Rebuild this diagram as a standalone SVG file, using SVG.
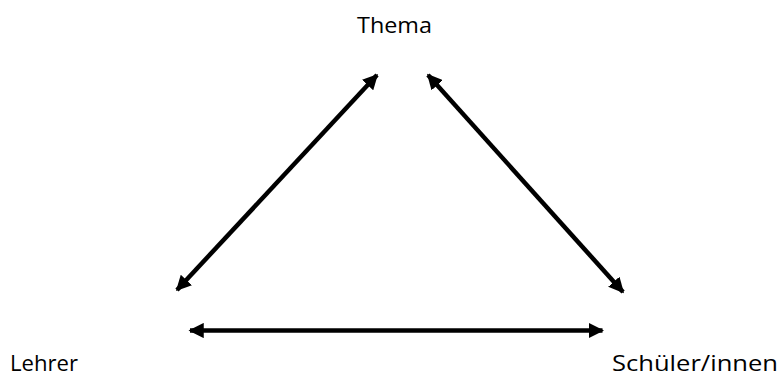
<svg xmlns="http://www.w3.org/2000/svg" width="781" height="379" viewBox="0 0 781 379">
<style>
text{font-family:"Open Sans","Liberation Sans",sans-serif;font-size:22px;fill:#000}
.c{stroke:#000;stroke-width:4.5;fill:none;marker-start:url(#a);marker-end:url(#a)}
</style>
<defs>
<marker id="a" viewBox="0 0 10 10" refX="9" refY="5" markerWidth="3.4" markerHeight="3.4" markerUnits="strokeWidth" orient="auto-start-reverse">
<path d="M0,0 L10,5 L0,10 Z" fill="#000"/>
</marker>
</defs>
<rect width="781" height="379" fill="#fff"/>
<g id="connectors">
<line class="c" x1="177" y1="290" x2="377" y2="75"/>
<line class="c" x1="428" y1="75" x2="623" y2="292"/>
<line class="c" x1="190" y1="330.5" x2="602.5" y2="330.5"/>
</g>
<g id="thema"><text x="357" y="33" textLength="75" lengthAdjust="spacingAndGlyphs">Thema</text></g>
<g id="lehrer"><text x="10" y="371" textLength="68" lengthAdjust="spacingAndGlyphs">Lehrer</text></g>
<g id="schueler"><text x="612" y="371" textLength="166" lengthAdjust="spacingAndGlyphs">Schüler/innen</text></g>
</svg>
